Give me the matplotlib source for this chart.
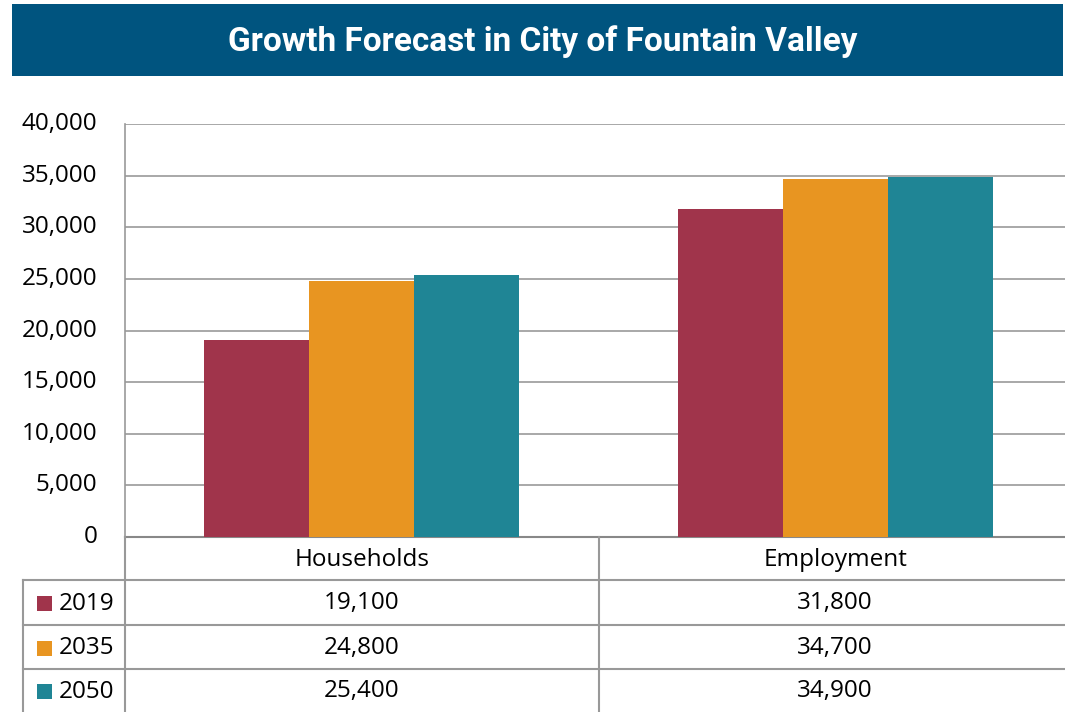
import matplotlib
matplotlib.use("Agg")
import matplotlib.pyplot as plt
from matplotlib.patches import Rectangle
from matplotlib.lines import Line2D
import numpy as np

categories = ["Households", "Employment"]
years = ["2019", "2035", "2050"]
values_2019 = [19100, 31800]
values_2035 = [24800, 34700]
values_2050 = [25400, 34900]
series = [values_2019, values_2035, values_2050]
colors = ["#A0344B", "#E89521", "#1F8595"]
yticks = [0, 5000, 10000, 15000, 20000, 25000, 30000, 35000, 40000]
title = "Growth Forecast in City of Fountain Valley"

W, H = 1065, 712
fig = plt.figure(figsize=(W / 100, H / 100), dpi=100)
FONT = "Open Sans"
FS = 17.5
GRAY = "#999999"

def fx(x):
    return x / W

def fy(y):
    return 1 - y / H

# Title banner
fig.add_artist(Rectangle((fx(12), fy(76)), fx(1063) - fx(12), fy(4) - fy(76),
                         transform=fig.transFigure, color="#00547F", lw=0))
fig.text(fx(543), fy(42), title, color="white", fontsize=24, fontweight="bold",
         family="Roboto", ha="center", va="center")

# Plot axes (extends slightly beyond the right edge, like the cropped original)
left, right, top, bottom = 125, 1072, 124, 537
ax = fig.add_axes([fx(left), fy(bottom), fx(right) - fx(left), fy(top) - fy(bottom)])
x = np.arange(len(categories))
bw = 0.222
for i, (vals, c) in enumerate(zip(series, colors)):
    ax.bar(x + (i - 1) * bw, vals, width=bw, color=c, zorder=3, label=years[i])
ax.set_xlim(-0.5, len(categories) - 0.5)
ax.set_ylim(0, 40000)
ax.set_yticks(yticks)
ax.set_yticklabels([f"{v:,}" for v in yticks], family=FONT, fontsize=FS)
ax.yaxis.grid(True, color=GRAY, lw=1.2, zorder=0)
ax.set_xticks([])
ax.tick_params(axis="y", length=0, pad=20)
for s in ["top", "right"]:
    ax.spines[s].set_visible(False)
ax.spines["left"].set_color(GRAY)
ax.spines["left"].set_linewidth(1.2)
ax.spines["bottom"].set_color("#888888")
ax.spines["bottom"].set_linewidth(1.5)
for lab in ax.get_yticklabels():
    lab.set_verticalalignment("center")

# Data table beneath
row_lines = [537, 580, 625, 669, 712]
col_mid = left + (right - left) / 2
def hline(y, x0, x1):
    fig.add_artist(Line2D([fx(x0), fx(x1)], [fy(y), fy(y)], transform=fig.transFigure,
                          color=GRAY, lw=1.5))
def vline(x0, y0, y1):
    fig.add_artist(Line2D([fx(x0), fx(x0)], [fy(y0), fy(y1)], transform=fig.transFigure,
                          color=GRAY, lw=1.5))

for y in row_lines[1:4]:
    hline(y, 23, W)
vline(left, 537, 712)
vline(col_mid, 537, 712)
vline(23, 580, 712)

cat_centers = [left + (right - left) * (i + 0.5) / len(categories) for i in range(len(categories))]
for cx, cat in zip(cat_centers, categories):
    fig.text(fx(cx), fy((row_lines[0] + row_lines[1]) / 2 + 1), cat, family=FONT,
             fontsize=FS, ha="center", va="center")
for r, (yr, vals, c) in enumerate(zip(years, series, colors)):
    yc = (row_lines[r + 1] + row_lines[r + 2]) / 2 + 1
    fig.add_artist(Rectangle((fx(37), fy(yc + 7.5)), fx(15), fy(0) - fy(15),
                             transform=fig.transFigure, color=c, lw=0))
    fig.text(fx(59), fy(yc), yr, family=FONT, fontsize=FS, ha="left", va="center")
    for cx, v in zip(cat_centers, vals):
        fig.text(fx(cx), fy(yc), f"{v:,}", family=FONT, fontsize=FS,
                 ha="center", va="center")

fig.savefig("out.png", dpi=100)
